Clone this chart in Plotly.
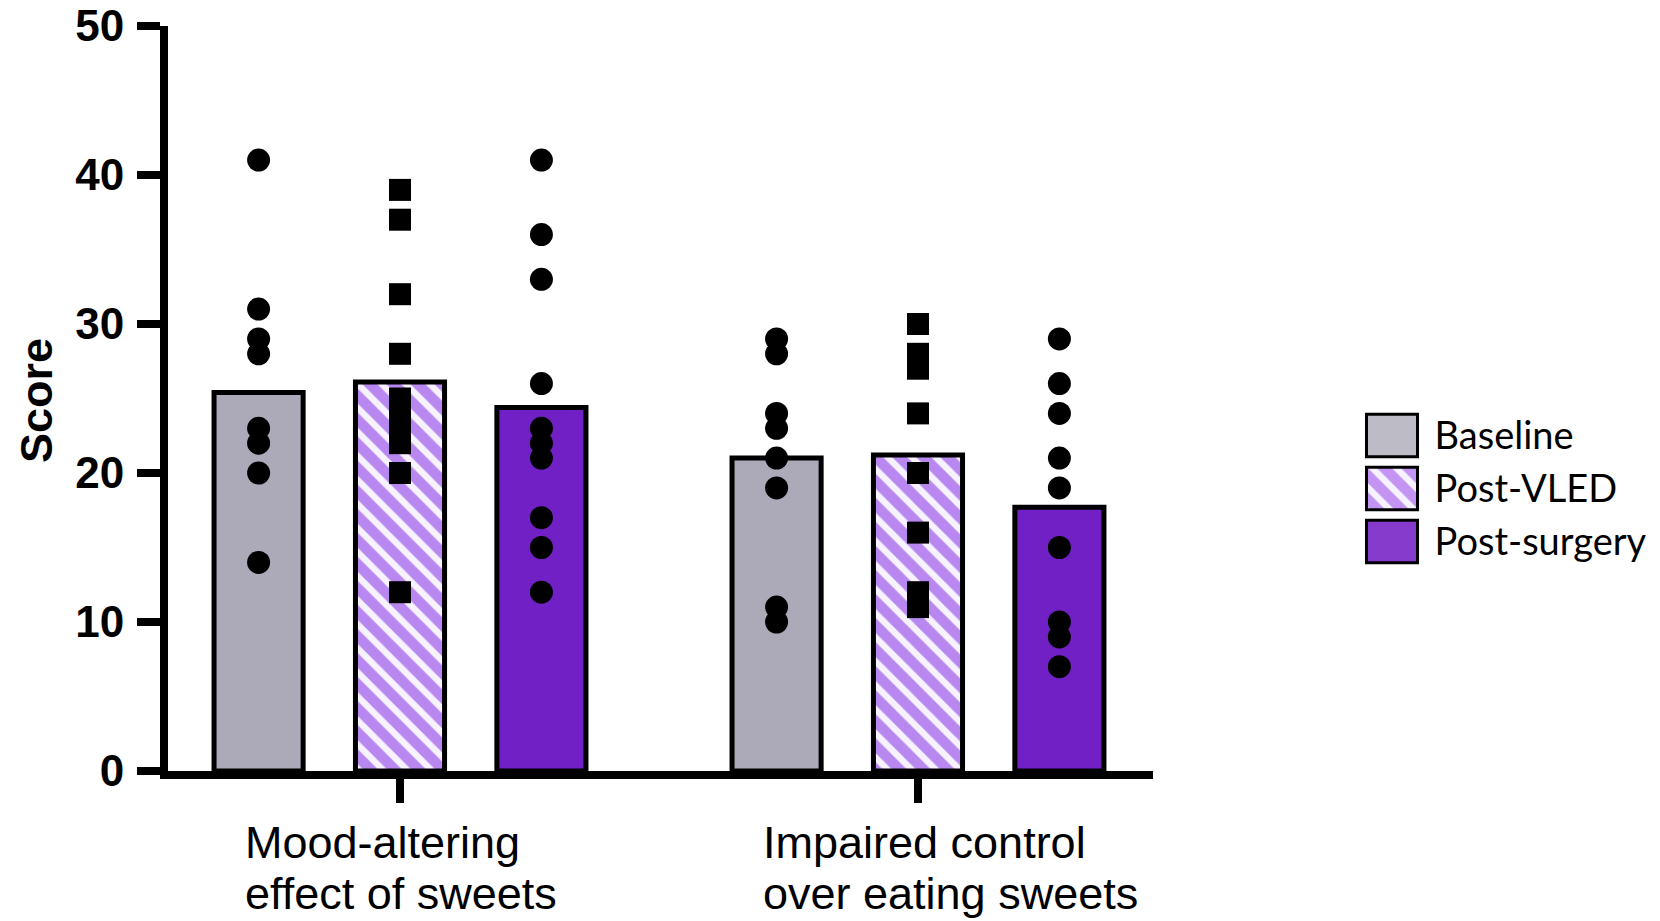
import plotly.graph_objects as go

# ---------------- data ----------------
category_lines = [["Mood-altering", "effect of sweets"],
                  ["Impaired control", "over eating sweets"]]
series_names = ["Baseline", "Post-VLED", "Post-surgery"]

bar_means = {
    "Baseline":     [25.4, 21.0],
    "Post-VLED":    [26.1, 21.2],
    "Post-surgery": [24.4, 17.7],
}

points = {
    "Baseline": [
        [41, 31, 29, 28, 23, 22, 20, 14],
        [29, 28, 24, 23, 21, 19, 11, 10],
    ],
    "Post-VLED": [
        [39, 37, 32, 28, 25, 24, 23, 22, 20, 12],
        [30, 28, 27, 24, 20, 16, 12, 11],
    ],
    "Post-surgery": [
        [41, 36, 33, 26, 23, 22, 21, 17, 15, 12],
        [29, 26, 24, 21, 19, 15, 10, 9, 7],
    ],
}

y_ticks = [0, 10, 20, 30, 40, 50]

# ---------------- styles ----------------
bar_colors = {"Baseline": "#ACAAB8", "Post-VLED": "#B987F0", "Post-surgery": "#7020C4"}
legend_colors = {"Baseline": "#BDBBC6", "Post-VLED": "#C394F2", "Post-surgery": "#873BCD"}
patterns = {"Baseline": "", "Post-VLED": "\\", "Post-surgery": ""}
symbols = {"Baseline": "circle", "Post-VLED": "square", "Post-surgery": "circle"}
offsets = [-0.273, 0.0, 0.273]
BAR_W = 0.172

# body margin is removed via post_script, so the figure fills the window
OFF = 0
W, H = 1660 - OFF, 921 - OFF
ML, MR, MT = 168 - OFF, 0, 26 - OFF
MB = H - (771 - OFF)
PW = W - ML - MR
PH = H - MT - MB


def px_x(px_ref):
    return (px_ref - OFF - ML) / PW


def px_y(py_ref):
    return (H - MB - (py_ref - OFF)) / PH


fig = go.Figure()

for si, name in enumerate(series_names):
    xs = [ci + offsets[si] for ci in range(len(category_lines))]
    fig.add_trace(go.Bar(
        x=xs, y=bar_means[name], width=BAR_W, name=name,
        marker=dict(
            color=bar_colors[name],
            line=dict(color="black", width=5),
            pattern=dict(shape=patterns[name], fgcolor="#F7F2FF",
                         size=17, solidity=0.38, fgopacity=1),
        ),
        showlegend=False, hoverinfo="skip",
    ))

for si, name in enumerate(series_names):
    px_list, py_list = [], []
    for ci in range(len(category_lines)):
        for v in points[name][ci]:
            px_list.append(ci + offsets[si])
            py_list.append(v)
    fig.add_trace(go.Scatter(
        x=px_list, y=py_list, mode="markers",
        marker=dict(symbol=symbols[name], size=23 if symbols[name] == "circle" else 22,
                    color="black", line=dict(width=0)),
        cliponaxis=False, showlegend=False, hoverinfo="skip",
    ))

# legend built as small bars on a secondary axis
for name in series_names:
    fig.add_trace(go.Bar(
        x=[1], y=[name], base=0, orientation="h", width=0.8,
        xaxis="x2", yaxis="y2",
        marker=dict(
            color=legend_colors[name],
            line=dict(color="black", width=3),
            pattern=dict(shape=patterns[name], fgcolor="#F7F2FF",
                         size=17, solidity=0.38, fgopacity=1),
        ),
        showlegend=False, hoverinfo="skip",
    ))

annotations = []
for ci, lines in enumerate(category_lines):
    for li, line in enumerate(lines):
        annotations.append(dict(
            x=ci, xref="x", y=0, yref="paper",
            xanchor="left", yanchor="middle",
            xshift=-157, yshift=-71 - 51 * li,
            text=line, showarrow=False,
            font=dict(family="Liberation Sans, Arial", size=45, color="black"),
        ))

annotations.append(dict(
    x=px_x(36), xref="paper", y=px_y(401), yref="paper",
    xanchor="center", yanchor="middle", textangle=-90,
    text="Score", showarrow=False,
    font=dict(family="Liberation Sans, Arial", size=45, color="black", weight="bold"),
))

fig.update_layout(
    width=W, height=H,
    margin=dict(l=ML, r=MR, t=MT, b=MB, pad=0, autoexpand=False),
    paper_bgcolor="white", plot_bgcolor="white",
    barmode="overlay",
    annotations=annotations,
    xaxis=dict(
        domain=[0, px_x(1153)],
        range=[-0.4479, 1.4537],
        tickvals=list(range(len(category_lines))),
        ticktext=["" for _ in category_lines],
        ticks="outside", ticklen=24, tickwidth=8, tickcolor="black",
        showline=True, linewidth=8, linecolor="black",
        showgrid=False, zeroline=False, fixedrange=True, automargin=False,
    ),
    yaxis=dict(
        domain=[0, 1],
        range=[0, 50],
        tickvals=y_ticks,
        ticks="outside", ticklen=23, tickwidth=8, tickcolor="black",
        showline=True, linewidth=8, linecolor="black",
        showgrid=False, zeroline=False, automargin=False,
        tickfont=dict(family="Liberation Sans, Arial", size=44, color="black", weight="bold"),
        ticklabelstandoff=4,
        ticklabeloverflow="allow",
    ),
    xaxis2=dict(
        domain=[px_x(1361.4), px_x(1422.6)],
        range=[-0.1, 1.1], anchor="y2",
        visible=False, fixedrange=True, automargin=False,
    ),
    yaxis2=dict(
        domain=[px_y(568), px_y(409)],
        type="category", categoryorder="array", categoryarray=series_names,
        range=[2.5, -0.5], anchor="x2", side="right",
        showline=False, showgrid=False, zeroline=False, ticks="",
        tickfont=dict(family="Lato, Open Sans", size=38, color="black"),
        ticklabelstandoff=11, automargin=False,
    ),
)

fig.write_html(
    "out.html",
    config={"displayModeBar": False},
    post_script="document.body.style.margin='0';document.body.style.overflow='hidden';",
)
